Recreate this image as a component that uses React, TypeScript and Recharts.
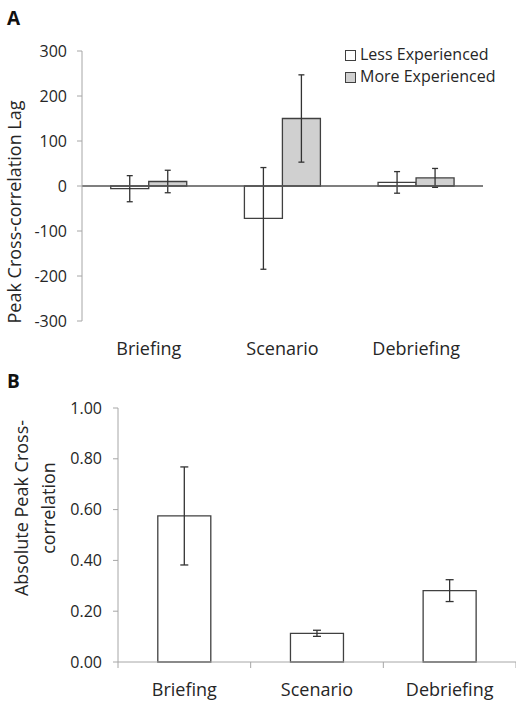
import React from 'react';
import { BarChart, Bar, XAxis, YAxis, ErrorBar, ReferenceLine, Legend, Label } from 'recharts';

const PHASES = ['Briefing', 'Scenario', 'Debriefing'];
const LESS_LAG = [-6, -72, 8];
const LESS_LAG_ERR = [29, 113, 24];
const MORE_LAG = [10, 150, 18];
const MORE_LAG_ERR = [25, 97, 21];
const LAG_TICKS = [-300, -200, -100, 0, 100, 200, 300];

const ABS_CORR = [0.575, 0.113, 0.281];
const ABS_CORR_ERR = [0.193, 0.012, 0.043];
const CORR_TICKS = [0, 0.2, 0.4, 0.6, 0.8, 1.0];

const SERIES_NAMES = ['Less Experienced', 'More Experienced'];

const FONT = '"Open Sans", sans-serif';
const TEXT = '#262626';
const AXIS = '#a6a6a6';
const EDGE = '#404040';
const GREY_FILL = '#d0d0d0';

const lagData = PHASES.map((p, i) => ({
  phase: p,
  less: LESS_LAG[i],
  lessErr: LESS_LAG_ERR[i],
  more: MORE_LAG[i],
  moreErr: MORE_LAG_ERR[i],
}));

const corrData = PHASES.map((p, i) => ({
  phase: p,
  value: ABS_CORR[i],
  err: ABS_CORR_ERR[i],
}));

const LegendBox = () => (
  <div style={{ fontFamily: FONT, fontSize: 16, color: TEXT, lineHeight: '22px' }}>
    {SERIES_NAMES.map((n, i) => (
      <div key={n} style={{ display: 'flex', alignItems: 'center', whiteSpace: 'nowrap' }}>
        <span
          style={{
            display: 'inline-block',
            width: 9,
            height: 9,
            marginTop: 2,
            marginRight: 4,
            border: `1px solid ${EDGE}`,
            background: i === 0 ? '#ffffff' : GREY_FILL,
          }}
        />
        <span>{n}</span>
      </div>
    ))}
  </div>
);

// category label at band centre, plus short tick marks at the band edges
const BandTick = (props: any) => {
  const { x, y, payload, index, visibleTicksCount, width } = props;
  const axisWidth = Number(width) || 0;
  const half = visibleTicksCount ? axisWidth / visibleTicksCount / 2 : 0;
  const last = index === visibleTicksCount - 1;
  return (
    <g>
      {half > 0 && <line x1={x - half} x2={x - half} y1={y} y2={y + 6} stroke={AXIS} strokeWidth={1} />}
      {half > 0 && last && <line x1={x + half} x2={x + half} y1={y} y2={y + 6} stroke={AXIS} strokeWidth={1} />}
      <text x={x} y={y + 21} dy="0.71em" textAnchor="middle" fontFamily={FONT} fontSize={18} fill={TEXT}>
        {payload.value}
      </text>
    </g>
  );
};

export default function App() {
  return (
    <div style={{ position: 'absolute', left: 0, top: 0, width: 516, height: 702, background: '#fff' }}>
      <div style={{ position: 'absolute', left: 7, top: 9, fontFamily: FONT, fontWeight: 700, fontSize: 19, lineHeight: 1, color: '#111' }}>A</div>
      <div style={{ position: 'absolute', left: 7, top: 372, fontFamily: FONT, fontWeight: 700, fontSize: 19, lineHeight: 1, color: '#111' }}>B</div>

      <div style={{ position: 'absolute', left: 0, top: 0 }}>
        <BarChart
          width={516}
          height={365}
          data={lagData}
          margin={{ top: 51, right: 33, bottom: 4, left: 0 }}
          barCategoryGap="21.5%"
          barGap={0}
        >
          <XAxis
            dataKey="phase"
            axisLine={false}
            tickLine={false}
            tickSize={0}
            tickMargin={21}
            height={40}
            interval={0}
            tick={{ fontFamily: FONT, fontSize: 18, fill: TEXT }}
          />
          <YAxis
            width={82}
            domain={[-300, 300]}
            ticks={LAG_TICKS}
            interval={0}
            axisLine={{ stroke: AXIS }}
            tickLine={{ stroke: AXIS }}
            tickSize={5}
            tickMargin={10}
            tick={{ fontFamily: FONT, fontSize: 16, fill: TEXT }}
          >
            <Label
              content={({ viewBox }: any) => {
                const cx = viewBox.x + 14;
                const cy = viewBox.y + viewBox.height / 2 + 26;
                return (
                  <text
                    x={cx}
                    y={cy}
                    transform={`rotate(-90, ${cx}, ${cy})`}
                    textAnchor="middle"
                    dominantBaseline="central"
                    fontFamily={FONT}
                    fontSize={18}
                    fill={TEXT}
                  >
                    Peak Cross-correlation Lag
                  </text>
                );
              }}
            />
          </YAxis>
          <Legend
            layout="vertical"
            align="center"
            verticalAlign="middle"
            wrapperStyle={{ position: 'absolute', left: 345, top: 43, width: 'auto', height: 'auto' }}
            content={() => <LegendBox />}
          />
          <Bar dataKey="less" name={SERIES_NAMES[0]} fill="#ffffff" stroke={EDGE} strokeWidth={1.3} isAnimationActive={false}>
            <ErrorBar dataKey="lessErr" width={3} stroke="#333" strokeWidth={1.3} direction="y" />
          </Bar>
          <Bar dataKey="more" name={SERIES_NAMES[1]} fill={GREY_FILL} stroke={EDGE} strokeWidth={1.3} isAnimationActive={false}>
            <ErrorBar dataKey="moreErr" width={3} stroke="#333" strokeWidth={1.3} direction="y" />
          </Bar>
          <ReferenceLine y={0} stroke="#555" strokeWidth={1.3} />
        </BarChart>
      </div>

      <div style={{ position: 'absolute', left: 0, top: 370 }}>
        <BarChart
          width={516}
          height={332}
          data={corrData}
          margin={{ top: 38, right: 0, bottom: 0, left: 0 }}
          barCategoryGap="30%"
        >
          <XAxis
            dataKey="phase"
            interval={0}
            height={40}
            axisLine={{ stroke: AXIS }}
            tickLine={false}
            tickSize={0}
            tickMargin={0}
            tick={<BandTick />}
          />
          <YAxis
            width={118}
            domain={[0, 1]}
            ticks={CORR_TICKS}
            interval={0}
            axisLine={{ stroke: AXIS }}
            tickLine={{ stroke: AXIS }}
            tickSize={5}
            tickMargin={11}
            tickFormatter={(v: number) => v.toFixed(2)}
            tick={{ fontFamily: FONT, fontSize: 16, fill: TEXT }}
          >
            <Label
              content={({ viewBox }: any) => {
                const cy = viewBox.y + viewBox.height / 2 - 27;
                const x1 = viewBox.x + 20.5;
                const x2 = viewBox.x + 48;
                return (
                  <g>
                    <text x={x1} y={cy} transform={`rotate(-90, ${x1}, ${cy})`} textAnchor="middle" dominantBaseline="central" fontFamily={FONT} fontSize={18} fill={TEXT}>
                      Absolute Peak Cross-
                    </text>
                    <text x={x2} y={cy} transform={`rotate(-90, ${x2}, ${cy})`} textAnchor="middle" dominantBaseline="central" fontFamily={FONT} fontSize={18} fill={TEXT}>
                      correlation
                    </text>
                  </g>
                );
              }}
            />
          </YAxis>
          <Bar dataKey="value" fill="#ffffff" stroke={EDGE} strokeWidth={1.3} isAnimationActive={false}>
            <ErrorBar dataKey="err" width={4} stroke="#333" strokeWidth={1.3} direction="y" />
          </Bar>
        </BarChart>
      </div>
    </div>
  );
}
